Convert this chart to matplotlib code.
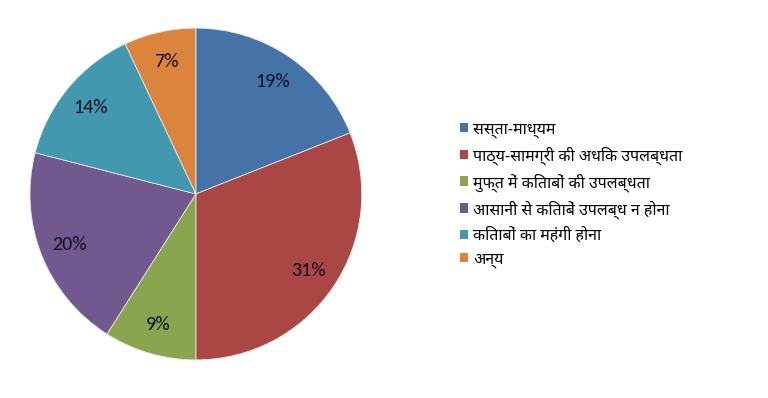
import matplotlib
matplotlib.use("Agg")
import matplotlib.pyplot as plt
from matplotlib import font_manager
from matplotlib.patches import Patch
from matplotlib.ft2font import FT2Font

labels = [
    "सस्ता-माध्यम",
    "पाठ्य-सामग्री की अधिक उपलब्धता",
    "मुफ्त में किताबों की उपलब्धता",
    "आसानी से किताबें उपलब्ध न होना",
    "किताबों का महंगी होना",
    "अन्य",
]
values = [19, 31, 9, 20, 14, 7]
colors = ["#4572A7", "#AA4643", "#89A54E", "#71588F", "#4198AF", "#DB843D"]

# pick a Devanagari font, preferring Noto / Hind / Mukta regular weights
paths = font_manager.findSystemFonts()
hindi_path = None
for want in ["NotoSansDevanagari-Regular", "NotoSansDevanagariUI-Regular",
             "Hind-Regular", "Mukta-Regular", "Poppins-Regular"]:
    hits = [p for p in paths if want in p]
    if hits:
        hindi_path = hits[0]
        break
if hindi_path is None:
    for p in paths:
        try:
            if ord("क") in FT2Font(p).get_charmap():
                hindi_path = p
                break
        except Exception:
            pass
if hindi_path:
    font_manager.fontManager.addfont(hindi_path)
    hindi_name = font_manager.FontProperties(fname=hindi_path).get_name()
    plt.rcParams["font.family"] = [hindi_name, "DejaVu Sans"]

fig = plt.figure(figsize=(7.68, 3.98), dpi=100)
ax = fig.add_axes([0.039, 0.0956, 0.432, 0.834])
wedges, texts, autotexts = ax.pie(
    values, colors=colors, startangle=90, counterclock=False,
    autopct="%d%%", pctdistance=0.82,
    wedgeprops=dict(edgecolor="#e8e8e8", linewidth=0.6),
    textprops=dict(fontsize=14.5, color="#111122", family=["Carlito", "Open Sans", "DejaVu Sans"]),
)
ax.set_xlim(-1, 1)
ax.set_ylim(-1, 1)
ax.set_aspect("equal")

handles = [Patch(facecolor=c, edgecolor="none") for c in colors]
fig.legend(handles, labels, loc="upper left", bbox_to_anchor=(0.590, 0.712),
           frameon=False, fontsize=11.5, handlelength=0.55, handleheight=0.55,
           handletextpad=0.3, labelspacing=0.52, borderaxespad=0)

fig.savefig("out.png", dpi=100, facecolor="white")
